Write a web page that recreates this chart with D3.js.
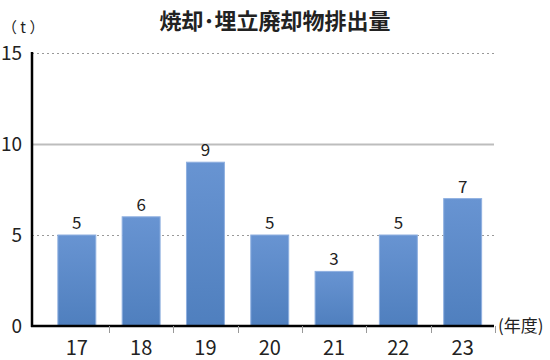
<!DOCTYPE html>
<html>
<head>
<meta charset="utf-8">
<script src="https://cdn.jsdelivr.net/npm/d3@7"></script>
<style>
  body { margin: 0; background: #fff; }
  text { font-family: "Noto Sans CJK JP", "Noto Sans", sans-serif; fill: #222; }
</style>
</head>
<body>
<div id="chart"></div>
<script>
const years = ["17", "18", "19", "20", "21", "22", "23"];
const values = [5, 6, 9, 5, 3, 5, 7];
const yTicks = [0, 5, 10, 15];

const W = 550, H = 360;
const x0 = 32, x1 = 494, yTop = 53, yBot = 326;

const svg = d3.select("#chart").append("svg")
  .attr("width", W).attr("height", H);

const defs = svg.append("defs");
const grad = defs.append("linearGradient")
  .attr("id", "barGrad").attr("x1", 0).attr("x2", 0).attr("y1", 0).attr("y2", 1);
grad.append("stop").attr("offset", "0%").attr("stop-color", "#6894d2");
grad.append("stop").attr("offset", "100%").attr("stop-color", "#4f7fbe");

const x = d3.scaleBand().domain(years).range([45, 494.5]).paddingInner(0.41).paddingOuter(0.2);
const y = d3.scaleLinear().domain([0, 15]).range([yBot, yTop]);

// grid
svg.selectAll(".grid")
  .data(yTicks.filter(d => d > 0))
  .enter().append("line")
  .attr("x1", x0).attr("x2", x1)
  .attr("y1", d => Math.round(y(d)) + 0.5)
  .attr("y2", d => Math.round(y(d)) + 0.5)
  .attr("stroke", d => d === 10 ? "#bdbdbd" : "#999")
  .attr("stroke-width", d => d === 10 ? 2 : 1)
  .attr("stroke-dasharray", d => d === 10 ? null : "2,3");

// bars
svg.selectAll(".bar")
  .data(values)
  .enter().append("rect")
  .attr("x", (d, i) => x(years[i]))
  .attr("width", x.bandwidth())
  .attr("y", d => y(d))
  .attr("height", d => yBot - y(d))
  .attr("fill", "url(#barGrad)")
  .attr("stroke", "#8fb0e0")
  .attr("stroke-width", 1);

// value labels
svg.selectAll(".val")
  .data(values)
  .enter().append("text")
  .attr("x", (d, i) => x(years[i]) + x.bandwidth() / 2)
  .attr("y", d => y(d) - 6)
  .attr("text-anchor", "middle")
  .style("font-size", "17px")
  .text(d => d);

// axes
svg.append("line")
  .attr("x1", x0).attr("x2", x0)
  .attr("y1", yTop - 1).attr("y2", yBot + 1)
  .attr("stroke", "#000").attr("stroke-width", 2.5);
svg.append("line")
  .attr("x1", x0 - 1).attr("x2", x1)
  .attr("y1", yBot).attr("y2", yBot)
  .attr("stroke", "#000").attr("stroke-width", 2.5);

// x tick marks between categories
const step = x.step();
const bounds = years.map((d, i) => x(d) + x.bandwidth() / 2 + step / 2);
svg.selectAll(".xt")
  .data(bounds)
  .enter().append("line")
  .attr("x1", d => Math.round(d) + 0.5).attr("x2", d => Math.round(d) + 0.5)
  .attr("y1", yBot).attr("y2", yBot + 7)
  .attr("stroke", "#999").attr("stroke-width", 1);

// y tick labels
svg.selectAll(".yl")
  .data(yTicks)
  .enter().append("text")
  .attr("x", 22)
  .attr("y", d => y(d) + 7)
  .attr("text-anchor", "end")
  .style("font-size", "19px")
  .text(d => d);

// x tick labels
svg.selectAll(".xl")
  .data(years)
  .enter().append("text")
  .attr("x", d => x(d) + x.bandwidth() / 2)
  .attr("y", 355)
  .attr("text-anchor", "middle")
  .style("font-size", "20px")
  .text(d => d);

svg.append("text")
  .attr("x", 2).attr("y", 33)
  .style("font-size", "15px")
  .text("（ t ）");

svg.append("text")
  .attr("x", 498).attr("y", 332)
  .style("font-size", "17px")
  .text("(年度)");

svg.append("text")
  .attr("x", 275).attr("y", 29)
  .attr("text-anchor", "middle")
  .style("font-size", "22px")
  .style("font-weight", "bold")
  .text("焼却･埋立廃却物排出量");
</script>
</body>
</html>
